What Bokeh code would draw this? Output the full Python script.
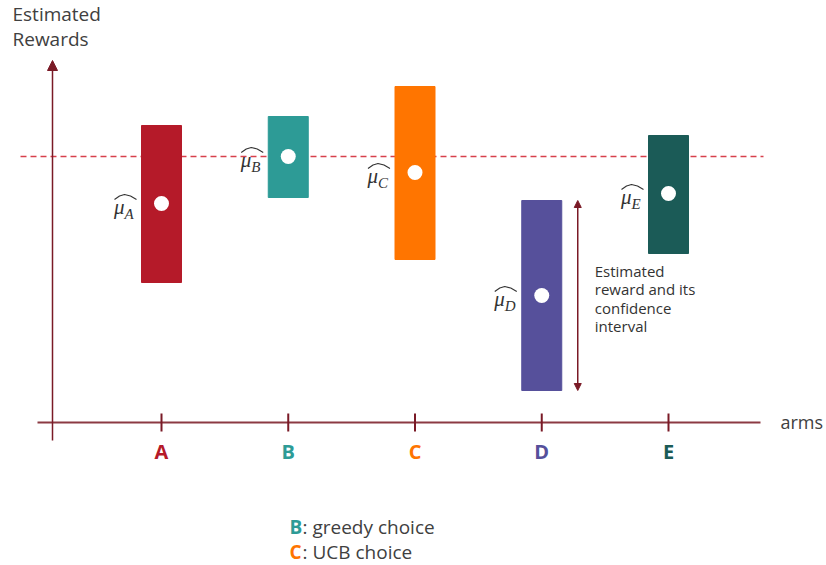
from bokeh.plotting import figure
from bokeh.models import Range1d, ColumnDataSource, Arrow, NormalHead, Label
from bokeh.core.properties import value
from bokeh.embed import file_html
from bokeh.resources import INLINE

# ---------------- data ----------------
arms = ["A", "B", "C", "D", "E"]
arm_pos = [1, 2, 3, 4, 5]
mean_reward = [2.19, 2.66, 2.50, 1.27, 2.29]
ci_upper = [2.97, 3.06, 3.36, 2.22, 2.87]
ci_lower = [1.40, 2.25, 1.63, 0.32, 1.69]
arm_colors = ["#B51A29", "#2D9B96", "#FF7500", "#56509B", "#1B5B57"]
greedy_arm = "B"
ucb_arm = "C"
annotated_arm = "D"
legend_lines = [(greedy_arm, ": greedy choice"), (ucb_arm, ": UCB choice")]
annotation_text = "Estimated\nreward and its\nconfidence\ninterval"
y_title = ["Estimated", "Rewards"]
x_title = "arms"

# ---------------- layout helpers ----------------
W, H = 826, 565
PX_X = 126.75   # pixels per arm step
X0 = 34.25      # canvas px of x = 0
PX_Y = 100.0    # pixels per reward unit
Y0 = 422.0      # canvas px (from top) of y = 0


def dx(px):
    return px / PX_X


def dy(px):
    return px / PX_Y


def fx(px):
    return (px - X0) / PX_X


def fy(py):
    return (Y0 - py) / PX_Y


AX = "#7A1A26"
TXT = "#404040"
FONT = "Open Sans"

p = figure(width=W, height=H, output_backend="svg", toolbar_location=None,
           x_range=Range1d(fx(0), fx(W)), y_range=Range1d(fy(H), fy(0)),
           x_axis_location=None, y_axis_location=None,
           min_border=0, outline_line_color=None)
p.grid.visible = False
p.background_fill_color = "white"

src = ColumnDataSource(dict(
    x=arm_pos, arm=arms, mean=mean_reward, top=ci_upper, bottom=ci_lower,
    color=arm_colors, mu=["\u03bc"] * len(arms), zero=[0] * len(arms),
    hx=[[x + dx(-47), x + dx(-42), x + dx(-37), x + dx(-31), x + dx(-25)] for x in arm_pos],
    hy=[[m + dy(4), m + dy(7.5), m + dy(9), m + dy(7.5), m + dy(4)] for m in mean_reward],
))

# axes
p.segment(x0=fx(37), y0=0, x1=fx(760), y1=0, line_color="#8C3A43", line_width=2)
p.add_layout(Arrow(x_start=fx(52), y_start=fy(440), x_end=fx(52), y_end=fy(60),
                   line_color=AX, line_width=1.5,
                   end=NormalHead(size=10, fill_color=AX, line_color=AX)))
p.segment(x0="x", y0=dy(9), x1="x", y1=-dy(9), line_color=AX, line_width=2, source=src)

# greedy reference line
gi = arms.index(greedy_arm)
p.segment(x0=fx(20), y0=mean_reward[gi], x1=fx(763), y1=mean_reward[gi],
          line_color="#D8404C", line_width=1.5, line_dash="6 4")

# confidence bars
p.vbar(x="x", width=dx(40), top="top", bottom="bottom", color="color", source=src)
p.scatter(x="x", y="mean", size=15, fill_color="white", line_color=None, source=src)

# mu-hat labels
p.text(x="x", y="mean", text="mu", x_offset=-37, y_offset=3, text_align="right",
       text_baseline="alphabetic", text_font=value("Liberation Serif"),
       text_font_style="italic", text_font_size="21px", text_color="#333333", source=src)
p.text(x="x", y="mean", text="arm", x_offset=-37, y_offset=10, text_align="left",
       text_baseline="alphabetic", text_font=value("Liberation Serif"),
       text_font_style="italic", text_font_size="15px", text_color="#333333", source=src)
p.multi_line(xs="hx", ys="hy", line_color="#333333", line_width=1.1, source=src)

# tick labels
p.text(x="x", y="zero", text="arm", y_offset=29, text_align="center",
       text_baseline="middle", text_color="color", text_font=value(FONT),
       text_font_style="bold", text_font_size="20px", source=src)

# annotation arrow for D
di = arms.index(annotated_arm)
p.add_layout(Arrow(x_start=arm_pos[di] + dx(36), y_start=ci_lower[di],
                   x_end=arm_pos[di] + dx(36), y_end=ci_upper[di],
                   line_color=AX, line_width=1.5,
                   start=NormalHead(size=7, fill_color=AX, line_color=AX),
                   end=NormalHead(size=7, fill_color=AX, line_color=AX)))
p.text(x=[arm_pos[di] + dx(53)], y=[ci_upper[di] - dy(60)], text=[annotation_text],
       text_baseline="top", text_align="left", text_line_height=0.93,
       text_font=value(FONT), text_font_size="15px", text_color="#333333")

# axis titles
p.add_layout(Label(x=fx(780), y=0, text=x_title, text_baseline="middle",
                   text_font=FONT, text_font_size="18px", text_color=TXT, y_offset=1))
for k, t in enumerate(y_title):
    p.add_layout(Label(x=12, y=H - 13 - 25 * k, x_units="screen", y_units="screen",
                       text=t, text_baseline="alphabetic", text_font=FONT,
                       text_font_size="19px", text_color=TXT))

# bottom legend
for k, (letter, rest) in enumerate(legend_lines):
    col = arm_colors[arms.index(letter)]
    yy = H - 526 - 25 * k
    p.add_layout(Label(x=289, y=yy, x_units="screen", y_units="screen", text=letter,
                       text_baseline="alphabetic", text_font=FONT, text_font_style="bold",
                       text_font_size="19px", text_color=col))
    p.add_layout(Label(x=302, y=yy, x_units="screen", y_units="screen", text=rest,
                       text_baseline="alphabetic", text_font=FONT,
                       text_font_size="19px", text_color=TXT))

open("out.html", "w").write(file_html(p, INLINE))
